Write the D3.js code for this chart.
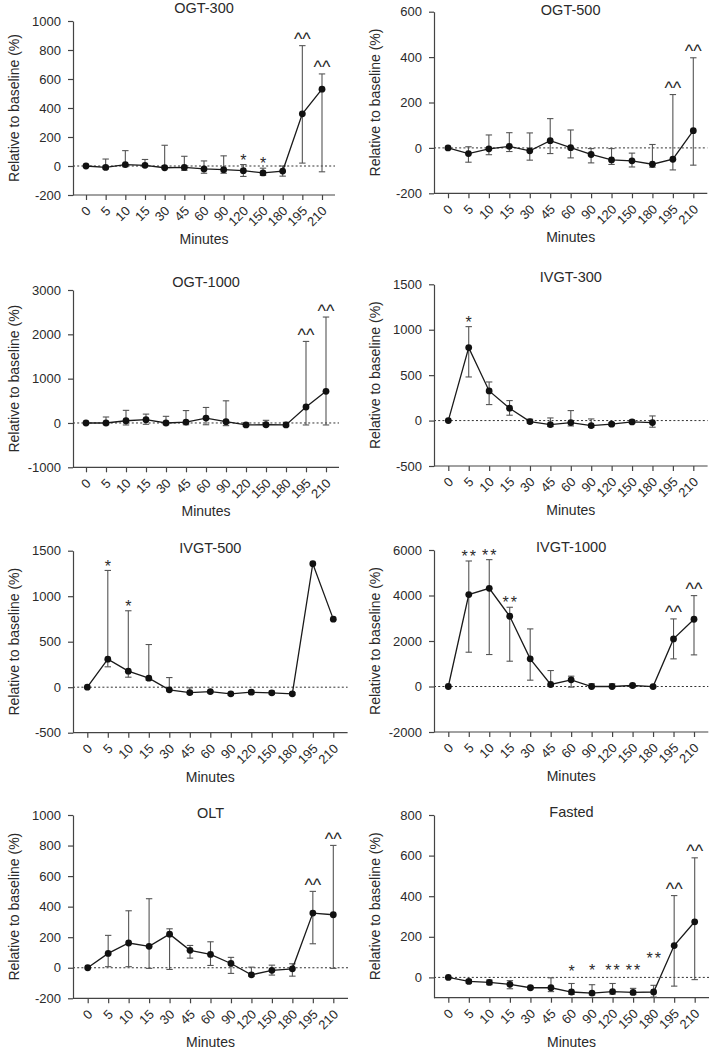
<!DOCTYPE html>
<html><head><meta charset="utf-8">
<script src="https://cdn.jsdelivr.net/npm/d3@7"></script>
<style>body{margin:0;background:#fff} svg{display:block}</style>
</head><body><svg id="c" width="709" height="1052"></svg>
<script>
// ---------- DATA ----------
const minutes = ["0","5","10","15","30","45","60","90","120","150","180","195","210"];

const ogt300Mean  = [0,-10,10,5,-12,-10,-20,-25,-32,-48,-35,360,530];
const ogt300Low   = [null,-20,-5,-5,-15,-30,-50,-50,-72,-65,-70,20,-40];
const ogt300High  = [null,48,106,45,143,67,35,70,10,-15,0,830,635];
const ogt300Marks = ["","","","","","","","","*","*","","^^","^^"];
const ogt300Ticks = [-200,0,200,400,600,800,1000];

const ogt500Mean  = [0,-25,-4,7,-13,32,1,-29,-53,-57,-72,-50,76];
const ogt500Low   = [null,-63,-30,-16,-54,-25,-44,-66,-73,-84,-85,-97,-76];
const ogt500High  = [null,5,57,67,66,129,79,-3,-3,-23,15,235,397];
const ogt500Marks = ["","","","","","","","","","","","^^","^^"];
const ogt500Ticks = [-200,0,200,400,600];

const ogt1000Mean  = [0,0,50,75,0,20,110,30,-45,-40,-45,360,715];
const ogt1000Low   = [null,-40,-45,-30,-40,-40,-40,-60,-70,-70,-70,-45,-45];
const ogt1000High  = [null,135,285,200,150,280,350,500,0,60,15,1840,2390];
const ogt1000Marks = ["","","","","","","","","","","","^^","^^"];
const ogt1000Ticks = [-1000,0,1000,2000,3000];

const ivgt300Mean  = [0,803,326,136,-11,-44,-22,-55,-40,-15,-22,null,null];
const ivgt300Low   = [null,480,176,59,-30,-66,-59,-73,-55,-29,-73,null,null];
const ivgt300High  = [null,1034,425,220,15,29,110,18,-22,4,51,null,null];
const ivgt300Marks = ["","*","","","","","","","","","","",""];
const ivgt300Ticks = [-500,0,500,1000,1500];

const ivgt500Mean  = [0,308,176,99,-29,-59,-48,-73,-55,-62,-73,1357,748];
const ivgt500Low   = [null,224,110,77,-40,-73,-62,-88,-73,-77,-84,null,null];
const ivgt500High  = [null,1283,840,469,106,-7,-40,-62,-40,-44,-59,null,null];
const ivgt500Marks = ["","*","*","","","","","","","","","",""];
const ivgt500Ticks = [-500,0,500,1000,1500];

const ivgt1000Mean  = [0,4040,4317,3088,1215,88,293,0,0,44,-5,2093,2956];
const ivgt1000Low   = [null,1507,1405,1112,278,20,-29,-30,-30,-30,-30,1215,1390];
const ivgt1000High  = [null,5517,5576,3483,2532,702,454,117,117,102,30,2971,3995];
const ivgt1000Marks = ["","**","**","**","","","","","","","","^^","^^"];
const ivgt1000Ticks = [-2000,0,2000,4000,6000];

const oltMean  = [0,94,162,140,220,114,87,28,-46,-17,-7,358,347];
const oltLow   = [null,7,7,-4,-11,63,15,-37,-55,-48,-55,157,-4];
const oltHigh  = [null,212,373,452,255,146,170,68,4,17,26,500,801];
const oltMarks = ["","","","","","","","","","","","^^","^^"];
const oltTicks = [-200,0,200,400,600,800,1000];

const fastedMean  = [0,-20,-25,-34,-51,-51,-72,-77,-70,-74,-72,157,274];
const fastedLow   = [null,-28,-36,-56,-57,-70,-84,-87,-82,-85,-97,-43,-11];
const fastedHigh  = [null,-11,-13,-16,-44,-2,-30,-36,-30,-54,-39,403,589];
const fastedMarks = ["","","","","","","*","*","**","**","**","^^","^^"];
const fastedMarkLevel = [null,null,null,null,null,null,46,54,54,54,111,null,null];
const fastedTicks = [0,200,400,600,800];

// ---------- LAYOUT ----------
const panels = [
  {title:"OGT-300", mean:ogt300Mean, low:ogt300Low, high:ogt300High, marks:ogt300Marks, ticks:ogt300Ticks, dom:[-200,1000],
   L:{left:73,top:21,bottom:195,x0:86,x1:322,titleY:8}},
  {title:"OGT-500", mean:ogt500Mean, low:ogt500Low, high:ogt500High, marks:ogt500Marks, ticks:ogt500Ticks, dom:[-200,600],
   L:{left:434,top:11.7,bottom:193.3,x0:448,x1:693.3,titleY:10}},
  {title:"OGT-1000", mean:ogt1000Mean, low:ogt1000Low, high:ogt1000High, marks:ogt1000Marks, ticks:ogt1000Ticks, dom:[-1000,3000],
   L:{left:73,top:290,bottom:467.3,x0:86,x1:326,titleY:281.7}},
  {title:"IVGT-300", mean:ivgt300Mean, low:ivgt300Low, high:ivgt300High, marks:ivgt300Marks, ticks:ivgt300Ticks, dom:[-500,1500],
   L:{left:434,top:284.3,bottom:466,x0:448.3,x1:693.3,titleY:276.7}},
  {title:"IVGT-500", mean:ivgt500Mean, low:ivgt500Low, high:ivgt500High, marks:ivgt500Marks, ticks:ivgt500Ticks, dom:[-500,1500],
   L:{left:73,top:550.7,bottom:732.7,x0:87.3,x1:333.3,titleY:548}},
  {title:"IVGT-1000", mean:ivgt1000Mean, low:ivgt1000Low, high:ivgt1000High, marks:ivgt1000Marks, ticks:ivgt1000Ticks, dom:[-2000,6000],
   L:{left:434,top:550,bottom:732,x0:448.3,x1:694,titleY:547}},
  {title:"OLT", mean:oltMean, low:oltLow, high:oltHigh, marks:oltMarks, ticks:oltTicks, dom:[-200,1000],
   L:{left:73,top:815,bottom:998.3,x0:87.7,x1:333.3,titleY:813}},
  {title:"Fasted", mean:fastedMean, low:fastedLow, high:fastedHigh, marks:fastedMarks, markLevel:fastedMarkLevel, ticks:fastedTicks, dom:[-100,800],
   L:{left:434,top:815,bottom:997.7,x0:448.3,x1:694.7,titleY:812}}
];

const FONT = "'Liberation Sans', Arial, Helvetica, sans-serif";
const TXT = "#2a2a2a";
const AX = "#444";
const svg = d3.select("#c");

panels.forEach(p => {
  const L = p.L;
  const right = L.x1 + (L.x0 - L.left);
  const g = svg.append("g");
  const y = d3.scaleLinear().domain(p.dom).range([L.bottom, L.top]);
  const x = d3.scalePoint().domain(minutes).range([L.x0, L.x1]);

  // zero dotted line
  g.append("line").attr("x1", L.left).attr("x2", right).attr("y1", y(0)).attr("y2", y(0))
    .attr("stroke", "#333").attr("stroke-width", 1).attr("stroke-dasharray", "2,2.2");

  // y axis
  const ya = g.append("g").attr("transform", `translate(${L.left},0)`)
    .call(d3.axisLeft(y).tickValues(p.ticks).tickSize(5).tickPadding(7).tickSizeOuter(0).tickFormat(d => String(d)));
  ya.select(".domain").attr("stroke", AX).attr("stroke-width", 1.2);
  ya.selectAll(".tick line").attr("stroke", AX).attr("stroke-width", 1.2);
  ya.selectAll(".tick text").attr("font-family", FONT).attr("font-size", 13).attr("fill", TXT);

  // x axis
  const xa = g.append("g").attr("transform", `translate(0,${L.bottom})`)
    .call(d3.axisBottom(x).tickSize(5).tickSizeOuter(0));
  xa.select(".domain").remove();
  xa.append("line").attr("x1", L.left).attr("x2", right).attr("y1", 0).attr("y2", 0)
    .attr("stroke", AX).attr("stroke-width", 1.2);
  xa.selectAll(".tick line").attr("stroke", AX).attr("stroke-width", 1.2);
  xa.selectAll(".tick text").attr("font-family", FONT).attr("font-size", 13).attr("fill", TXT)
    .attr("x", 0).attr("y", 0).attr("dy", "0.35em").attr("text-anchor", "end")
    .attr("transform", "translate(2,13.5) rotate(-45)");

  const rows = minutes.map((m, i) => ({m, mean: p.mean[i], lo: p.low[i], hi: p.high[i], mark: p.marks[i],
    level: p.markLevel ? p.markLevel[i] : null}));

  // error bars
  const eb = g.append("g").attr("stroke", "#555").attr("stroke-width", 1.1).attr("fill", "none");
  rows.filter(d => d.lo != null && d.hi != null).forEach(d => {
    const cx = x(d.m);
    eb.append("line").attr("x1", cx).attr("x2", cx).attr("y1", y(d.lo)).attr("y2", y(d.hi));
    eb.append("line").attr("x1", cx - 3.2).attr("x2", cx + 3.2).attr("y1", y(d.hi)).attr("y2", y(d.hi));
    eb.append("line").attr("x1", cx - 3.2).attr("x2", cx + 3.2).attr("y1", y(d.lo)).attr("y2", y(d.lo));
  });

  // line
  const line = d3.line().defined(d => d.mean != null).x(d => x(d.m)).y(d => y(d.mean));
  g.append("path").datum(rows).attr("d", line).attr("fill", "none").attr("stroke", "#1a1a1a").attr("stroke-width", 1.3);

  // points
  g.selectAll("circle.pt").data(rows.filter(d => d.mean != null)).enter().append("circle")
    .attr("cx", d => x(d.m)).attr("cy", d => y(d.mean)).attr("r", 3.4).attr("fill", "#111");

  // significance marks
  rows.filter(d => d.mark).forEach(d => {
    const top = Math.min(y(d.hi != null ? d.hi : d.mean), y(d.mean));
    const isCaret = d.mark === "^^";
    let cy;
    if (d.level != null) cy = y(d.level);
    else cy = top - (isCaret ? 9.5 : 8);
    const fs = isCaret ? 18 : 16;
    g.append("text").attr("x", x(d.m) + (isCaret ? 0 : (d.mark.length > 1 ? 1 : 0)))
      .attr("y", cy + (isCaret ? 0.5 : 0.57) * fs)
      .attr("text-anchor", "middle").attr("font-family", FONT).attr("font-size", fs)
      .attr("letter-spacing", isCaret ? 0 : (d.mark.length > 1 ? 2 : 0))
      .attr("fill", TXT).text(d.mark);
  });

  // title
  g.append("text").attr("x", (L.left + right) / 2).attr("y", L.titleY).attr("dy", "0.35em")
    .attr("text-anchor", "middle").attr("font-family", FONT).attr("font-size", 14.5).attr("fill", TXT).text(p.title);
  // y axis title
  g.append("text").attr("transform", `translate(${L.left - 59},${(L.top + L.bottom) / 2}) rotate(-90)`)
    .attr("dy", "0.35em").attr("text-anchor", "middle").attr("font-family", FONT).attr("font-size", 14)
    .attr("fill", TXT).text("Relative to baseline (%)");
  // x axis title
  g.append("text").attr("x", (L.left + right) / 2).attr("y", L.bottom + 44).attr("dy", "0.35em")
    .attr("text-anchor", "middle").attr("font-family", FONT).attr("font-size", 14)
    .attr("fill", TXT).text("Minutes");
});
</script></body></html>
